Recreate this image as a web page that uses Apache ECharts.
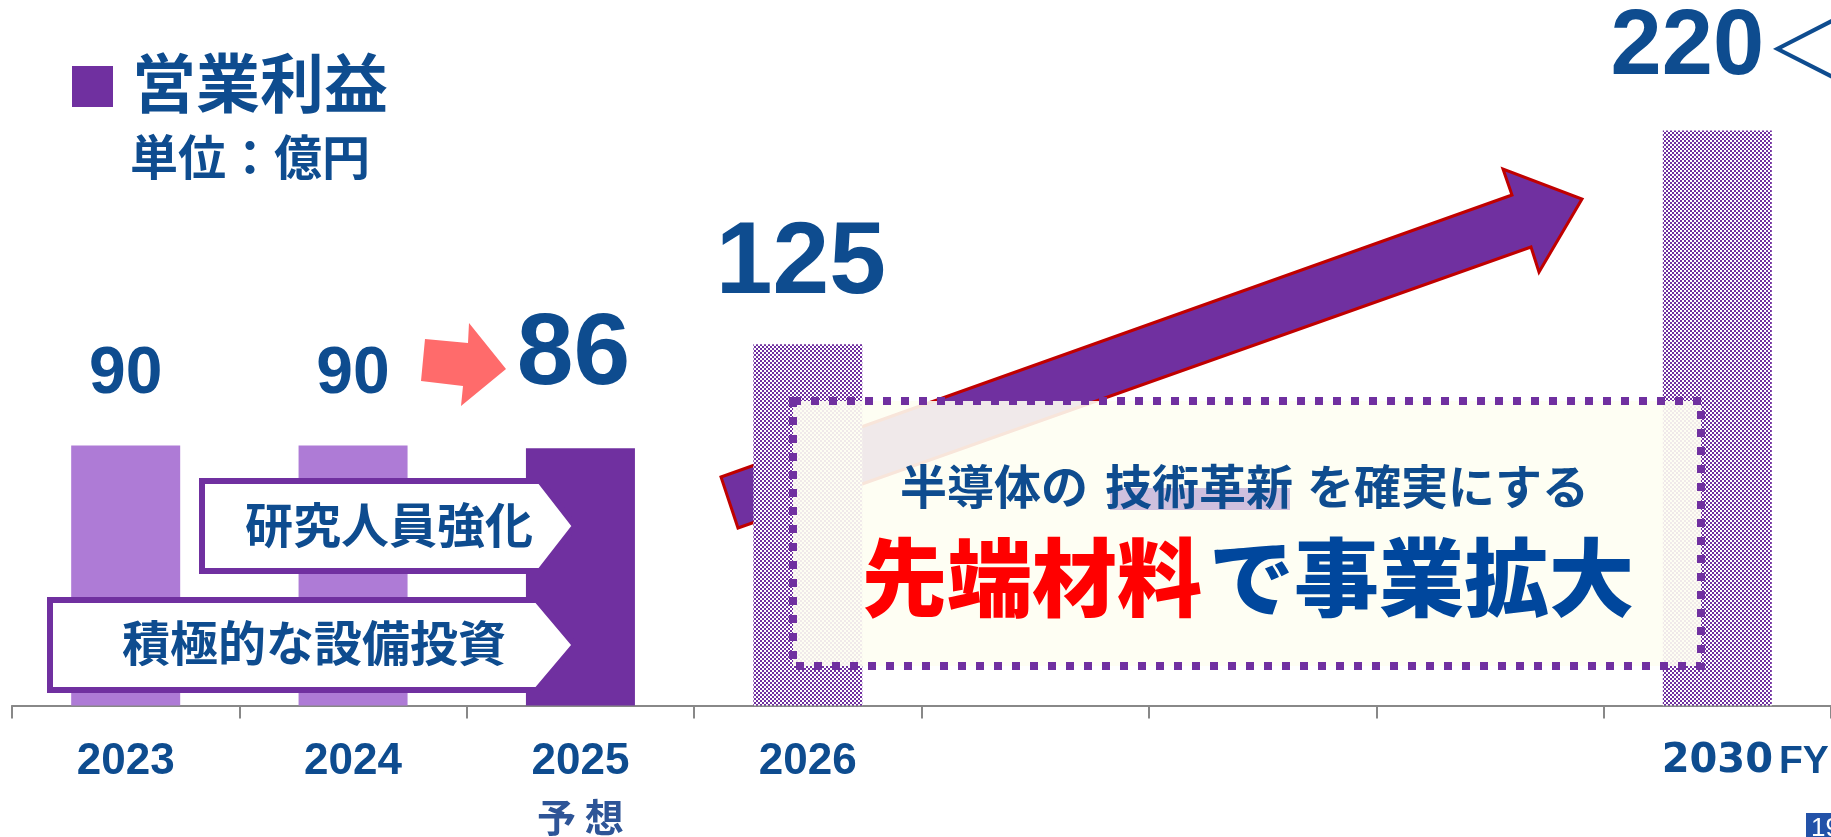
<!DOCTYPE html>
<html>
<head>
<meta charset="utf-8">
<script src="https://cdn.jsdelivr.net/npm/echarts@6/dist/echarts.min.js"></script>
<style>
html,body{margin:0;padding:0;background:#fff;}
#c{width:1831px;height:837px;}
</style>
</head>
<body>
<div id="c"></div>
<script>
// ---- data ----
const categories = ['2023', '2024', '2025', '2026', '', '', '', '2030'];
const operatingProfit = [90, 90, 89, 125, null, null, null, 199];
const valueLabels = ['90', '90', '86', '125', '', '', '', '220'];
const forecastNote = '予 想';
const titleText = '営業利益';
const unitText = '単位：億円';
const callouts = ['研究人員強化', '積極的な設備投資'];
const messageLine1 = ['半導体の', '技術革新', 'を確実にする'];
const messageLine2 = ['先端材料', 'で事業拡大'];

// ---- styles ----
const BLUE = '#0E4C8F';
const PURPLE = '#7030A0';
const LIGHT = '#AE7BD6';
const CJK = '"Noto Sans CJK JP", "Noto Sans CJK SC", sans-serif';
const NUM = '"Liberation Sans", Arial, sans-serif';

const pc = document.createElement('canvas');
pc.width = 4; pc.height = 4;
const pctx = pc.getContext('2d');
pctx.fillStyle = '#ffffff'; pctx.fillRect(0, 0, 4, 4);
pctx.fillStyle = PURPLE; pctx.fillRect(0, 0, 2, 2); pctx.fillRect(2, 2, 2, 2);
const checker = { image: pc, repeat: 'repeat' };

const barColors = [LIGHT, LIGHT, PURPLE, checker, null, null, null, checker];
const labelStyles = [
  { fontSize: 66, distance: 38, offset: [0, 0] },
  { fontSize: 66, distance: 38, offset: [0, 0] },
  { fontSize: 102, distance: 41, offset: [-7, 0] },
  { fontSize: 102, distance: 28, offset: [-7, 0] },
  null, null, null,
  { fontSize: 92, distance: 36, offset: [13, 0] }
];

const seriesData = operatingProfit.map((v, i) => {
  if (v == null) return null;
  const ls = labelStyles[i];
  const item = {
    value: v,
    itemStyle: { color: barColors[i] },
    label: {
      show: true, position: 'top', distance: ls.distance, offset: ls.offset,
      color: BLUE, fontFamily: NUM, fontWeight: 'bold', fontSize: ls.fontSize,
      lineHeight: ls.fontSize
    }
  };
  if (i === 7) {
    item.label.formatter = '{a|' + valueLabels[i] + '}{b|＜}';
    item.label.rich = {
      a: { fontFamily: NUM, fontWeight: 'bold', fontSize: ls.fontSize, color: BLUE, lineHeight: ls.fontSize },
      b: { fontFamily: CJK, fontWeight: 300, fontSize: 86, color: BLUE, lineHeight: ls.fontSize }
    };
  } else {
    item.label.formatter = valueLabels[i];
  }
  return item;
});

const chart = echarts.init(document.getElementById('c'), null, { renderer: 'canvas' });

const bigArrow = [[721,477],[1512,195],[1503,169],[1582,199],[1539,272],[1531,247],[738,528]];
const smallArrow = [[425,339],[468,343],[469,323],[506,369],[461,406],[463,386],[421,381]];

chart.setOption({
  animation: false,
  backgroundColor: '#ffffff',
  grid: { left: 12, right: -4, top: 12, bottom: 129, containLabel: false },
  xAxis: {
    type: 'category',
    data: categories,
    boundaryGap: true,
    axisLine: { show: true, lineStyle: { color: '#888888', width: 2 } },
    axisTick: { show: true, length: 13, lineStyle: { color: '#888888', width: 2 } },
    axisLabel: {
      interval: 0, margin: 31,
      formatter: function (v, i) {
        if (v === '2025') return '{y|' + v + '}\n{s|' + forecastNote + '}';
        if (v === '2030') return '{w|' + v + '}';
        return '{y|' + v + '}';
      },
      rich: {
        y: { fontFamily: NUM, fontWeight: 'bold', fontSize: 44, color: BLUE, lineHeight: 50 },
        w: { fontFamily: '"DejaVu Sans", sans-serif', fontWeight: 'bold', fontSize: 40, color: BLUE, lineHeight: 50 },
        s: { fontFamily: CJK, fontWeight: 'bold', fontSize: 39, color: '#2E5597', lineHeight: 62 }
      }
    }
  },
  yAxis: { type: 'value', min: 0, max: 240, show: false, splitLine: { show: false } },
  series: [{
    type: 'bar',
    data: seriesData,
    barWidth: 109,
    z: 2
  }],
  graphic: [
    // legend square + title
    { type: 'rect', z: 5, shape: { x: 72, y: 66, width: 41, height: 41 }, style: { fill: PURPLE } },
    { type: 'text', z: 5, style: { text: titleText, x: 132, y: 83, font: 'bold 64px ' + CJK, fill: BLUE, align: 'left', verticalAlign: 'middle' } },
    { type: 'text', z: 5, style: { text: unitText, x: 130, y: 157, font: 'bold 48px ' + CJK, fill: BLUE, align: 'left', verticalAlign: 'middle' } },
    // big growth arrow (behind bars)
    { type: 'polygon', z: 1, shape: { points: bigArrow }, style: { fill: PURPLE, stroke: '#C00000', lineWidth: 3 } },
    // small salmon arrow
    { type: 'polygon', z: 5, shape: { points: smallArrow }, style: { fill: '#FF6B6B' } },
    // callout pentagons
    { type: 'polygon', z: 5, shape: { points: [[202,481],[540,481],[575,526],[540,571],[202,571]] }, style: { fill: '#ffffff', stroke: PURPLE, lineWidth: 6, lineJoin: 'miter' } },
    { type: 'text', z: 6, style: { text: callouts[0], x: 389, y: 525, font: 'bold 48px ' + CJK, fill: BLUE, align: 'center', verticalAlign: 'middle' } },
    { type: 'polygon', z: 5, shape: { points: [[50,600],[537,600],[575,645],[537,690],[50,690]] }, style: { fill: '#ffffff', stroke: PURPLE, lineWidth: 6, lineJoin: 'miter' } },
    { type: 'text', z: 6, style: { text: callouts[1], x: 314, y: 643, font: 'bold 48px ' + CJK, fill: BLUE, align: 'center', verticalAlign: 'middle' } },
    // message box
    { type: 'rect', z: 10, shape: { x: 793, y: 401, width: 908, height: 265 }, style: { fill: 'rgba(254,254,242,0.9)', stroke: PURPLE, lineWidth: 8, lineDash: [8, 10] } },
    { type: 'rect', z: 11, shape: { x: 1110, y: 488, width: 180, height: 22 }, style: { fill: '#CFC0DE' } },
    { type: 'text', z: 12, style: { text: messageLine1[0], x: 900, y: 486, font: 'bold 47px ' + CJK, fill: BLUE, align: 'left', verticalAlign: 'middle' } },
    { type: 'text', z: 12, style: { text: messageLine1[1], x: 1105, y: 486, font: 'bold 47px ' + CJK, fill: BLUE, align: 'left', verticalAlign: 'middle' } },
    { type: 'text', z: 12, style: { text: messageLine1[2], x: 1307, y: 486, font: 'bold 47px ' + CJK, fill: BLUE, align: 'left', verticalAlign: 'middle' } },
    { type: 'text', z: 12, style: { text: messageLine2[0], x: 862, y: 578, font: '900 85px ' + CJK, fill: '#FF0000', align: 'left', verticalAlign: 'middle', shadowColor: 'rgba(0,0,0,0.45)', shadowBlur: 4, shadowOffsetX: 3, shadowOffsetY: 3 } },
    { type: 'text', z: 12, style: { text: messageLine2[1], x: 1209, y: 578, font: '900 85px ' + CJK, fill: '#00479D', align: 'left', verticalAlign: 'middle' } },
    // FY
    { type: 'text', z: 5, style: { text: 'FY', x: 1779, y: 762, font: 'bold 39px ' + NUM, fill: BLUE, align: 'left', verticalAlign: 'middle' } },
    // page number
    { type: 'rect', z: 5, shape: { x: 1806, y: 813, width: 40, height: 40 }, style: { fill: '#2352A8' } },
    { type: 'text', z: 6, style: { text: '19', x: 1811, y: 829, font: '26px ' + NUM, fill: '#ffffff', align: 'left', verticalAlign: 'middle' } }
  ]
});
</script>
</body>
</html>
